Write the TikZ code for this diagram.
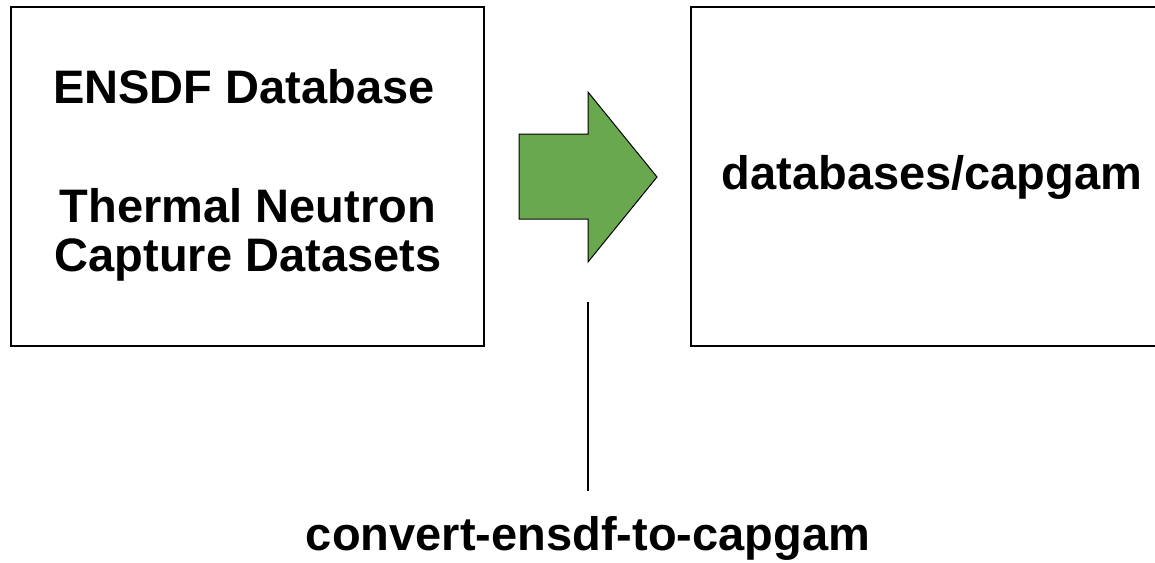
\documentclass[tikz,border=0pt]{standalone}
\usepackage{fontspec}
\setmainfont{Liberation Sans}
\definecolor{arrowgreen}{RGB}{106,168,79}
\newcommand{\wtxt}[1]{{\fontsize{47}{56}\selectfont\bfseries #1}}
\begin{document}
\begin{tikzpicture}[x=1pt,y=-1pt,
  boxstyle/.style={draw=black,line width=1.5pt,inner sep=0pt},
  label/.style={anchor=base,inner sep=0pt},
  bigarrow/.style={draw=black,line width=1pt,fill=arrowgreen,line join=miter},
  linkline/.style={draw=black,line width=1.8pt}]
\useasboundingbox (0,0) rectangle (1155,562);
\node[boxstyle,minimum width=473pt,minimum height=339pt] (src) at (247.5,176.5) {};
\node[boxstyle,minimum width=484pt,minimum height=339pt] (dst) at (933,176.5) {};
\node[label] (t1) at (244,103) {\wtxt{ENSDF Database}};
\node[label] (t2) at (248,222) {\wtxt{Thermal Neutron}};
\node[label] (t3) at (248,271) {\wtxt{Capture Datasets}};
\node[label] (t4) at (932,189) {\wtxt{databases/capgam}};
\node[label] (conv) at (588,550) {\wtxt{convert-ensdf-to-capgam}};
\draw[bigarrow] (519,134) -- (588,134) -- (588,92) -- (657,177) -- (588,262) -- (588,219) -- (519,219) -- cycle;
\coordinate (ltop) at (588,302);
\coordinate (lbot) at (588,491);
\draw[linkline] (ltop) -- (lbot);
\end{tikzpicture}
\end{document}
